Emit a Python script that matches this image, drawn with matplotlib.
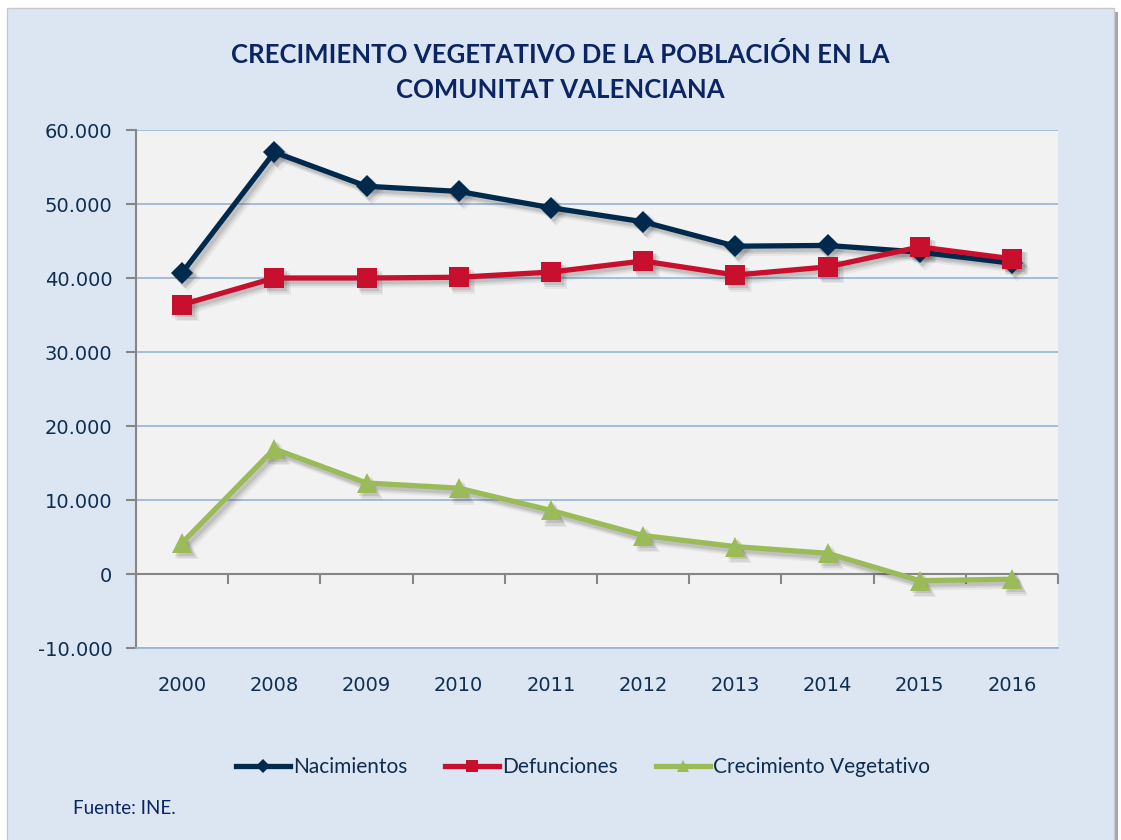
import matplotlib
matplotlib.use("Agg")
import matplotlib.pyplot as plt
from matplotlib.patches import Rectangle
from matplotlib.transforms import ScaledTranslation
from matplotlib.ticker import FuncFormatter, FixedLocator

# Data
years = ["2000", "2008", "2009", "2010", "2011", "2012", "2013", "2014", "2015", "2016"]
nacimientos = [40700, 57000, 52400, 51700, 49500, 47600, 44300, 44400, 43500, 42000]
defunciones = [36400, 40000, 40000, 40100, 40800, 42300, 40400, 41500, 44200, 42600]
crecimiento = [4200, 16900, 12300, 11600, 8600, 5200, 3700, 2800, -900, -700]

W, H = 1121, 840
bg = "#dce6f2"
navy = "#002a4d"
red = "#c8102e"
green = "#9bbb59"
text_col = "#0f2d4f"
grid_col = "#95b3d7"

plt.rcParams['font.family'] = ['Lato', 'DejaVu Sans']

fig = plt.figure(figsize=(W / 100, H / 100), dpi=100, facecolor="white")

# chart frame with a small shadow
fig.patches.append(Rectangle((11 / W, -0.01), (W - 14) / W, (H - 12) / H + 0.01,
                             transform=fig.transFigure, facecolor="#a6a6a6",
                             edgecolor="none", zorder=-3))
fig.patches.append(Rectangle((7 / W, -0.01), (W - 14) / W, (H - 8) / H + 0.01,
                             transform=fig.transFigure, facecolor=bg,
                             edgecolor="#c8c8c8", linewidth=1, zorder=-2))

ax = fig.add_axes([136 / W, (H - 648) / H, 922 / W, 518 / H])
ax.set_facecolor("#f2f2f2")

x = list(range(len(years)))
series = [
    (nacimientos, navy, "D", 11.5, "Nacimientos", 4),
    (defunciones, red, "s", 14, "Defunciones", 5),
    (crecimiento, green, "^", 14, "Crecimiento Vegetativo", 4),
]

# soft drop shadows under the lines
for off, alpha in [(4, 0.06), (3, 0.09), (2, 0.12)]:
    tr = ax.transData + ScaledTranslation(off / 72, -off / 72, fig.dpi_scale_trans)
    for vals, col, mk, ms, lab, z in series:
        ax.plot(x, vals, color="#303030", alpha=alpha, lw=3.8 + off * 0.6, marker=mk,
                ms=ms + off * 0.4, mew=0, transform=tr, zorder=z - 1,
                solid_joinstyle="round")

for vals, col, mk, ms, lab, z in series:
    ax.plot(x, vals, color=col, lw=3.8, marker=mk, ms=ms, mew=0, label=lab,
            zorder=z, solid_joinstyle="round")

ax.set_xlim(-0.5, len(years) - 0.5)
ax.set_ylim(-10000, 60000)
ax.set_yticks(range(-10000, 60001, 10000))
ax.yaxis.set_major_formatter(FuncFormatter(lambda v, p: f"{int(v):,}".replace(",", ".")))
ax.grid(axis="y", color=grid_col, lw=1.2, zorder=0)
ax.axhline(0, color="#868686", lw=1.5, zorder=2)

for s in ["top", "right"]:
    ax.spines[s].set_visible(False)
ax.spines["left"].set_color("#868686")
ax.spines["left"].set_linewidth(1.5)
ax.spines["bottom"].set_color(grid_col)
ax.spines["bottom"].set_linewidth(1.2)

ax.set_xticks(x)
ax.set_xticklabels(years)
ax.tick_params(axis="x", length=0, pad=20, labelsize=14, labelcolor=text_col)
ax.tick_params(axis="y", length=7, width=1.5, color="#868686", pad=10,
               labelsize=14, labelcolor=text_col)
for lab in ax.get_xticklabels() + ax.get_yticklabels():
    lab.set_family(['DejaVu Sans'])

# category boundary ticks on the zero axis
sec = ax.secondary_xaxis(1 / 7)
sec.xaxis.set_major_locator(FixedLocator([i - 0.5 for i in range(len(years) + 1)]))
sec.tick_params(axis="x", direction="out", length=7, width=1.5, color="#868686",
                labelbottom=False)
sec.spines["bottom"].set_visible(False)
sec.set_xticklabels([])

fig.text(560 / W, 1 - 72 / H,
         "CRECIMIENTO VEGETATIVO DE LA POBLACIÓN EN LA\nCOMUNITAT VALENCIANA",
         ha="center", va="center", fontsize=18.5, fontweight="bold", color="#0b2463",
         linespacing=1.55)

fig.legend(loc="center", bbox_to_anchor=(583 / W, 1 - 767 / H), ncol=3,
           frameon=False, fontsize=15, labelcolor=text_col, handlelength=2.6,
           columnspacing=1.8, handletextpad=0.15, markerscale=0.65)

fig.text(73 / W, 1 - 808 / H, "Fuente: INE.", ha="left", va="center",
         fontsize=13.5, color="#0b2463")

fig.savefig("out.png", dpi=100, facecolor="white")
